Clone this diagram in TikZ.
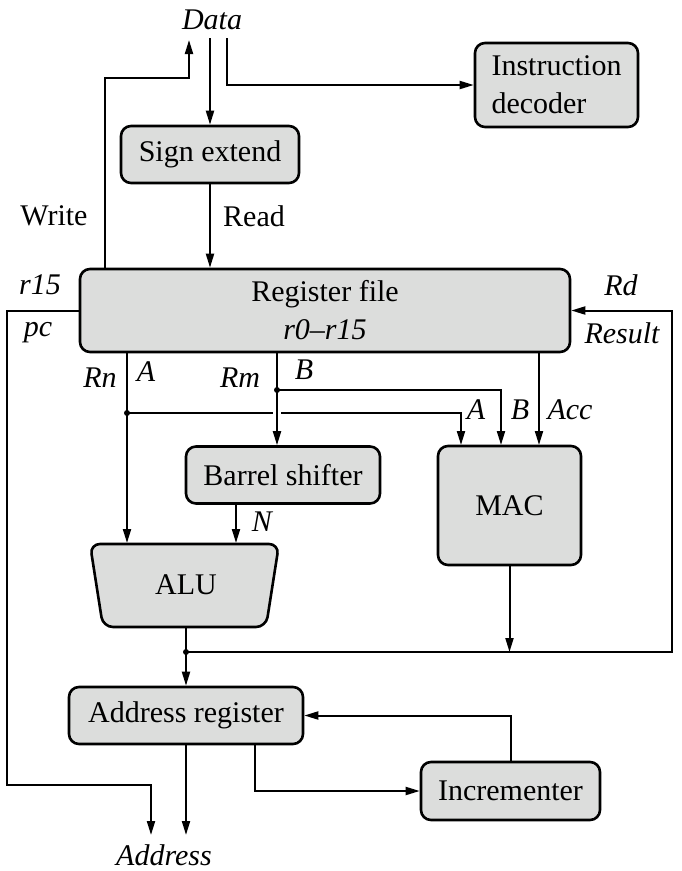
\documentclass[tikz,border=0pt]{standalone}
\usepackage{fontspec}
\setmainfont{Liberation Serif}
\usetikzlibrary{arrows.meta}
\definecolor{boxgray}{RGB}{220,221,220}
\newcommand\myfs{\fontsize{30}{38}\selectfont}
\begin{document}
\begin{tikzpicture}[x=1pt,y=-1pt,
  box/.style={draw=black, line width=2.6pt, fill=boxgray, rounded corners=10pt, inner sep=0pt, font=\myfs},
  wire/.style={line width=2pt},
  arr/.style={wire, -{Triangle[length=14pt,width=8pt]}},
  lbl/.style={font=\myfs\itshape, inner sep=0pt},
  rlbl/.style={font=\myfs, inner sep=0pt},
  dot/.style={circle, fill=black, inner sep=0pt, minimum size=6pt}]
\useasboundingbox (0,0) rectangle (681,871);

% boxes
\node[box, minimum width=178pt, minimum height=57pt] (sign) at (210,154.5) {Sign extend};
\node[box, minimum width=163pt, minimum height=84pt, align=left] (instr) at (556.5,85) {Instruction\\decoder};
\node[box, minimum width=490pt, minimum height=83pt, align=center] (regfile) at (325,310.5) {Register file\\\textit{r0–r15}};
\node[box, minimum width=194pt, minimum height=57pt] (barrel) at (283,475) {Barrel shifter};
\node[box, minimum width=143pt, minimum height=119pt] (mac) at (509.5,505.5) {MAC};
\filldraw[draw=black, fill=boxgray, line width=2.6pt, rounded corners=10pt]
  (90,544) -- (279,544) -- (266,627) -- (103,627) -- cycle;
\node[rlbl] (alu) at (186,585) {ALU};
\node[box, minimum width=234pt, minimum height=57pt] (addr) at (186,715.5) {Address register};
\node[box, minimum width=179pt, minimum height=58pt] (inc) at (510.5,791) {Incrementer};

% labels
\node[lbl] (data) at (212,20) {Data};
\node[rlbl] (write) at (54,216) {Write};
\node[rlbl] (read) at (254,216) {Read};
\node[lbl] (r15) at (40,285) {r15};
\node[lbl] (pc) at (38,333) {pc};
\node[lbl] (rd) at (621,285) {Rd};
\node[lbl] (result) at (622,333) {Result};
\node[lbl] (rnl) at (100,378) {Rn};
\node[lbl] (al) at (146,372) {A};
\node[lbl] (rml) at (240,378) {Rm};
\node[lbl] (bl) at (304,370) {B};
\node[lbl] (ma) at (476,410) {A};
\node[lbl] (mb) at (520,410) {B};
\node[lbl] (macc) at (570,410) {Acc};
\node[lbl] (nl) at (262,522) {N};
\node[lbl] (address) at (164,855) {Address};

% coordinates
\coordinate (wx) at (105,78);
\coordinate (wt) at (189,40);
\coordinate (dd) at (210,38);
\coordinate (dr) at (227,38);
\coordinate (pcL) at (7,785);
\coordinate (pcT) at (151,835);
\coordinate (rn) at (127,413);
\coordinate (rm) at (277,390);
\coordinate (aluA) at (127,543);
\coordinate (aluB) at (236,543);
\coordinate (alubot) at (186,627);
\coordinate (jalu) at (186,652);
\coordinate (resx) at (672,652);
\coordinate (macA) at (461,445);
\coordinate (macB) at (501,445);
\coordinate (macC) at (539,445);
\coordinate (ai) at (255,793);
\coordinate (aout) at (186,835);

% wires
\draw[arr] (regfile.north -| wx) -- (wx) -| (wt);
\draw[arr] (dd) -- (sign.north);
\draw[arr] (dr) |- (instr.west);
\draw[arr] (sign.south) -- (sign.south |- regfile.north);
\draw[arr] (regfile.west) -| (pcL) -| (pcT);
\draw[arr] (jalu) -| (resx) |- (regfile.east);

\draw[arr] (regfile.south -| aluA) -- (aluA);
\draw[arr] (rn) -| (macA);
\draw[white, line width=8pt] (277,406) -- (277,420);
\draw[arr] (regfile.south -| rm) -- (rm |- barrel.north);
\draw[arr] (rm) -| (macB);
\draw[arr] (regfile.south -| macC) -- (macC);
\draw[arr] (barrel.south -| aluB) -- (aluB);
\draw[wire] (alubot) -- (jalu);
\draw[arr] (jalu) -- (addr.north);
\draw[arr] (mac.south) -- (mac.south |- jalu);
\draw[arr] (inc.north) |- (addr.east);
\draw[arr] (addr.south -| ai) |- (inc.west);
\draw[arr] (addr.south) -- (aout);

\node[dot] at (rn) {};
\node[dot] at (rm) {};
\node[dot] at (jalu) {};
\end{tikzpicture}
\end{document}
